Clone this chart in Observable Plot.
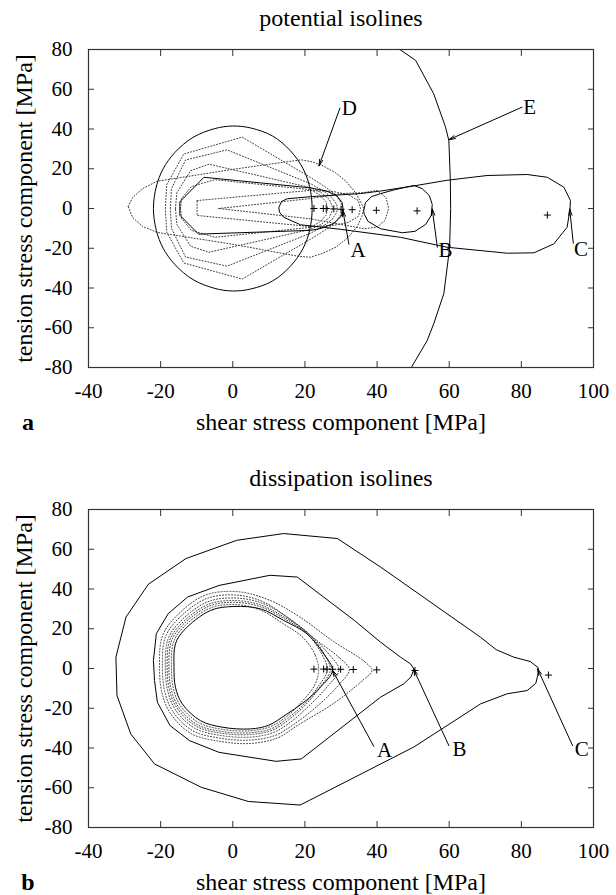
<!DOCTYPE html>
<html>
<head>
<meta charset="utf-8">
<script src="https://cdn.jsdelivr.net/npm/d3@7"></script>
<script src="https://cdn.jsdelivr.net/npm/@observablehq/plot@0.6"></script>
<style>
  html, body { margin: 0; padding: 0; background: #fff; }
  #chart { width: 616px; }
  #chart svg { display: block; }
</style>
</head>
<body>
<div id="chart"></div>
<script>
// ---------- shared axis data ----------
const xTicks = [-40, -20, 0, 20, 40, 60, 80, 100];
const yTicks = [-80, -60, -40, -20, 0, 20, 40, 60, 80];
const xTitle = "shear stress component [MPa]";
const yTitle = "tension stress component [MPa]";

// ---------- panel a: potential isolines ----------
const titleA = "potential isolines";
const ellipseA = [[-22,0],[-21.2,11],[-19.3,20],[-16,28.3],[-11,35.8],[-5,40.2],[0,41.5],[5,40.5],[11,36.5],[16,29],[19.5,20],[21.3,11],[22,0],[21.3,-11],[19.5,-20],[16,-29],[11,-36.5],[5,-40.5],[0,-41.5],[-5,-40.2],[-11,-35.8],[-16,-28.3],[-19.3,-20],[-21.2,-11]];
const wedgeA = [[-14.6,3.5],[-8,15.7],[21.5,10.4],[26,8.8],[28.8,6.5],[30.3,3],[30.6,-0.5],[30,-4],[28,-7.5],[24.5,-10],[21.5,-11],[-9.5,-12.9],[-14.6,-3.5]];
const teardropC = [[12.8,0.6],[13.5,3.5],[15.1,4.9],[22,6],[35.4,7.5],[41,8.8],[49.3,11.1],[59.4,14.2],[70.5,16.6],[81.6,17.1],[87.2,15.7],[91.8,10.7],[93.6,4],[93.5,0],[92.7,-9.4],[89,-17.8],[83.5,-22.3],[76.1,-22.5],[59.4,-19.5],[46.5,-14.5],[30,-10.5],[18.8,-8.2],[14.1,-4.4],[13,-2]];
const loopB = [[36.3,-1],[36.8,3],[38.5,6],[41,7.5],[45,9.5],[50.2,11.6],[52.5,10],[54.5,6.5],[55.3,2],[55,-3.5],[53.5,-8],[50.5,-11.5],[47,-12.2],[41,-10.2],[37.5,-6.5],[36.5,-3]];
const curveE = [[46.3,80],[50.7,74.5],[55.7,57.7],[59,40.9],[59.9,34.2],[60.3,15],[60.4,0],[60.1,-20],[58.5,-42.9],[55.7,-58],[53.9,-66.4],[49.5,-80]];
const dotD = [[-29,1],[-27.8,5.5],[-25,10],[-21,13.7],[0,19.7],[19,24.5],[22,23.5],[25,21.5],[28.5,18],[31.5,13.5],[34,8],[35.7,2.5],[36.3,0],[35.8,-4],[34.5,-9],[32,-14.5],[28.5,-19.5],[25,-22.5],[21.5,-24.5],[18,-24],[0,-18],[-21,-12],[-25,-9],[-27.8,-4.5]];
const dotQ1 = [[-18.7,0],[-18.3,12],[-13.6,27.4],[2.6,35.9],[21.5,15.7],[25.5,11],[28.5,7],[30,3],[30.3,0],[30,-3],[28.5,-7],[25.5,-11],[21.5,-15.5],[2.6,-35.5],[-13.6,-27.4],[-18.3,-12]];
const dotQ2 = [[-17.3,0],[-17,10],[-13.1,24.4],[-1.6,29.5],[21.5,12.5],[25,9],[27.5,5.5],[28.8,2],[29,0],[28.8,-2],[27.5,-5.5],[25,-9],[21.5,-12.5],[-1.6,-29],[-13.1,-24.4],[-17,-10]];
const dotQ3 = [[-15.9,0],[-15.5,8],[-11.7,19],[-6.6,22.3],[21.5,10.5],[24.5,8],[26.8,4.5],[27.8,0],[26.8,-4.5],[24.5,-8],[21.5,-10.5],[-6.6,-22],[-11.7,-19],[-15.5,-8]];
const dotQ4 = [[-14.5,0],[-14.2,5],[-11.5,11],[-5,14.5],[21.5,9.5],[24,7],[25.8,3.5],[26.3,0],[25.8,-3.5],[24,-7],[21.5,-9.5],[-5,-14.5],[-11.5,-11],[-14.2,-5]];
const dotQ5 = [[-9.9,4],[21.5,9.1],[28,8.5],[32,7],[34.8,4],[35.4,0],[34.8,-4],[32,-7],[28,-8.5],[21.5,-9.1],[-9.9,-3.5]];
const dotQ6 = [[-3.9,0],[21.5,5],[30,7.5],[36.3,8],[40,9.1],[42.5,5.5],[43.2,0],[42.2,-6],[40,-9.4],[36.3,-10.2],[30,-8],[21.5,-5.2]];
const plusAx = [22.5, 25.1, 25.9, 28.0, 30.0, 33.1, 39.8, 51.1, 87.2];
const plusAy = [0, 0, 0, -0.2, -0.4, -0.6, -0.9, -1.2, -3.3];
const arrowNamesA = ["D", "E", "A", "B", "C"];
const arrowFromXA = [29.7, 80.2, 32.2, 56.7, 94.4];
const arrowFromYA = [50.5, 51, -18, -19.5, -17.5];
const arrowToXA = [23.9, 59.9, 30.5, 55.3, 93.4];
const arrowToYA = [21.4, 34.6, -0.8, -0.2, -0.2];
const labelXA = [30.2, 80.5, 32.6, 57.0, 94.6];
const labelYA = [50.5, 51, -20.8, -20.8, -20.6];

// ---------- panel b: dissipation isolines ----------
const titleB = "dissipation isolines";
const outerC = [[84.6,0.5],[82.5,3.5],[77.9,5.7],[73,9.5],[68.7,15.7],[41,51],[29,65.4],[14.1,67.9],[1.1,64.5],[-13,55.3],[-23.4,42.4],[-29.6,25.9],[-32.4,5.7],[-32.1,-13.6],[-28.3,-32.9],[-21.7,-48],[-8.7,-59.8],[4.3,-66.9],[18.7,-68.7],[50.2,-39.5],[68.7,-17.8],[76.1,-12.7],[81.6,-11.1],[84,-7.5],[84.6,-3]];
const middleB = [[50.2,-0.2],[49.3,2.3],[46.5,5.7],[41,13.2],[33.7,24.2],[17.9,46],[10.3,46.9],[-3.8,41.8],[-12.5,36],[-17.9,27.6],[-21.2,17.5],[-22,4],[-21.7,-6],[-20.9,-17],[-17.4,-28.7],[-12,-36.3],[-3.8,-42.2],[12,-46.7],[19,-45.5],[41,-14.4],[47.4,-7.7],[49.3,-4.4]];
const innerA = [[27.6,-1],[25.2,7.4],[20.6,17.4],[14.1,24.2],[7.7,30],[0.3,31.2],[-6.2,29.2],[-13.6,19.1],[-15.9,12.4],[-16.3,0.6],[-15.9,-9.4],[-14,-17.8],[-9,-26.2],[-3,-29.5],[4.9,-30.4],[10,-28.5],[14.5,-23.5],[19.7,-17],[24.3,-9.4]];
const ring1 = [[23.8,-0.5],[22.8,7],[19.5,15.5],[14,22.5],[7.5,29.5],[0.3,32.2],[-6.5,30.2],[-14.2,19.8],[-16.5,12.8],[-17,0.6],[-16.5,-9.8],[-14.6,-18.5],[-9.5,-27.2],[-3,-30.6],[5,-31.3],[10.5,-29.2],[15,-24],[19.5,-16],[22.8,-8]];
const ring2 = [[26.2,-0.8],[24.6,7.5],[20.4,17.8],[14.3,25],[7.8,31],[0.3,33.3],[-6.8,31.2],[-14.7,20.4],[-17.1,13.2],[-17.7,0.6],[-17.1,-10.2],[-15.1,-19.2],[-9.9,-28.2],[-3,-31.7],[5,-32.3],[10.8,-30.2],[15.2,-25],[20,-17.5],[23.5,-9.5]];
const ring3 = [[27,-0.8],[25.2,7.8],[20.6,18.3],[14.4,25.7],[7.8,31.9],[0.3,34.2],[-7,32.1],[-15.1,21],[-17.6,13.6],[-18.2,0.6],[-17.6,-10.5],[-15.5,-19.8],[-10.2,-29],[-3,-32.6],[5,-33.2],[11,-31],[15.5,-25.8],[20.3,-18],[24,-9.8]];
const ring4 = [[29.4,-0.5],[26.5,7.5],[21,17.5],[14.6,26.5],[7.9,33],[0.3,35.5],[-7.3,33.3],[-15.6,21.7],[-18.1,14],[-18.7,0.6],[-18.1,-10.8],[-16,-20.5],[-10.6,-30],[-3,-33.8],[5,-34.5],[11.3,-32.2],[16,-27],[21,-19],[26,-9.5]];
const ring5 = [[32.3,-0.5],[29.5,5.5],[23,14.5],[16,24.5],[8.5,33.5],[0.5,37],[-7.8,34.8],[-16.3,22.7],[-18.9,14.6],[-19.5,0.6],[-18.9,-11.3],[-16.7,-21.4],[-11.1,-31.3],[-3,-35.2],[5,-36],[11.8,-33.6],[17,-28],[24,-18],[29.5,-8]];
const ring6 = [[38.6,-1],[36.5,3.5],[28,13.5],[18.5,26],[10,34.5],[1,38.7],[-8.2,36.5],[-17,23.7],[-19.7,15.2],[-20.3,0.6],[-19.7,-11.8],[-17.4,-22.3],[-11.6,-32.7],[-3,-36.8],[5,-37.7],[12.3,-35],[18.5,-28],[28,-17.5],[36,-6]];
const plusBx = [22.5, 25.2, 26.1, 27.7, 29.9, 33.4, 39.9, 50.5, 87.5];
const plusBy = [-0.3, -0.3, -0.3, -0.4, -0.4, -0.5, -0.7, -1.0, -3.3];
const arrowNamesB = ["A", "B", "C"];
const arrowFromXB = [39.1, 59.9, 94.2];
const arrowFromYB = [-39.2, -38.8, -38.8];
const arrowToXB = [27.6, 50.1, 84.5];
const arrowToYB = [-0.8, -0.3, -0.2];
const labelXB = [40.0, 60.9, 94.8];
const labelYB = [-41.2, -40.6, -40.6];

// ---------- drawing ----------
const FONT = "'Liberation Serif', 'Times New Roman', serif";
const DOT = {stroke: "#3a3a3a", strokeWidth: 1, strokeDasharray: "1,2"};
const SOLID = {stroke: "#000", strokeWidth: 1};
const xy = {x: d => d[0], y: d => d[1]};
const fmt = d => String(d);

function panel(cfg) {
  const arrows = cfg.names.map((n, i) => ({
    name: n, x1: cfg.fx[i], y1: cfg.fy[i], x2: cfg.tx[i], y2: cfg.ty[i], lx: cfg.lx[i], ly: cfg.ly[i]
  }));
  const pluses = cfg.px.map((x, i) => ({x, y: cfg.py[i]}));
  const marks = [];
  for (const d of cfg.dotted) marks.push(Plot.line(d.pts, {...xy, ...DOT, curve: d.curve}));
  for (const s of cfg.solid) marks.push(Plot.line(s.pts, {...xy, ...SOLID, curve: s.curve}));
  const T = {fontFamily: FONT, fill: "#000"};
  marks.push(
    Plot.dot(pluses, {x: "x", y: "y", symbol: "plus", r: 2.4, stroke: "#000", strokeWidth: 1}),
    Plot.arrow(arrows, {x1: "x1", y1: "y1", x2: "x2", y2: "y2", stroke: "#000", strokeWidth: 1, headLength: 10, headAngle: 28}),
    Plot.text(arrows, {x: "lx", y: "ly", text: "name", textAnchor: "start", lineAnchor: "middle", fontSize: 21, ...T}),
    Plot.frame({stroke: "#333", strokeWidth: 1.2}),
    Plot.axisX({anchor: "bottom", ticks: xTicks, tickFormat: fmt, tickSize: -6, tickPadding: 22, label: null, fontSize: 21, fontFamily: FONT, stroke: "#333", fill: "#000"}),
    Plot.axisX({anchor: "top", ticks: xTicks, tickSize: -6, tickFormat: () => "", label: null, stroke: "#333"}),
    Plot.axisY({anchor: "left", ticks: yTicks, tickFormat: fmt, tickSize: -6, tickPadding: 22, label: null, fontSize: 21, fontFamily: FONT, stroke: "#333", fill: "#000"}),
    Plot.axisY({anchor: "right", ticks: yTicks, tickSize: -6, tickFormat: () => "", label: null, stroke: "#333"}),
    Plot.text([cfg.title], {text: d => d, frameAnchor: "top", dy: -31, textAnchor: "middle", lineAnchor: "middle", fontSize: 24, ...T}),
    Plot.text([xTitle], {text: d => d, frameAnchor: "bottom", dy: 55, textAnchor: "middle", lineAnchor: "middle", fontSize: 24, ...T}),
    Plot.text([yTitle], {text: d => d, frameAnchor: "left", dx: -64, rotate: -90, textAnchor: "middle", lineAnchor: "middle", fontSize: 24, ...T}),
    Plot.text([cfg.letter], {text: d => d, frameAnchor: "bottom-left", dx: -60.5, dy: 55, textAnchor: "middle", lineAnchor: "middle", fontSize: 24, fontWeight: "bold", ...T})
  );
  return Plot.plot({
    width: 616,
    height: cfg.height,
    marginLeft: 88,
    marginRight: 23,
    marginTop: 49,
    marginBottom: cfg.marginBottom,
    style: {fontFamily: FONT, fontSize: "21px", color: "#000", background: "#fff", overflow: "visible"},
    x: {domain: [-40, 100]},
    y: {domain: [-80, 80]},
    marks
  });
}

const chart = document.getElementById("chart");
chart.append(panel({
  title: titleA, letter: "a", height: 460, marginBottom: 93,
  dotted: [
    {pts: dotD, curve: "linear-closed"},
    {pts: dotQ1, curve: "linear-closed"},
    {pts: dotQ2, curve: "linear-closed"},
    {pts: dotQ3, curve: "linear-closed"},
    {pts: dotQ4, curve: "linear-closed"},
    {pts: dotQ5, curve: "linear-closed"},
    {pts: dotQ6, curve: "linear-closed"}
  ],
  solid: [
    {pts: ellipseA, curve: "catmull-rom-closed"},
    {pts: wedgeA, curve: "linear-closed"},
    {pts: teardropC, curve: "linear-closed"},
    {pts: loopB, curve: "linear-closed"},
    {pts: curveE, curve: "linear"}
  ],
  px: plusAx, py: plusAy,
  names: arrowNamesA, fx: arrowFromXA, fy: arrowFromYA, tx: arrowToXA, ty: arrowToYA, lx: labelXA, ly: labelYA
}));
chart.append(panel({
  title: titleB, letter: "b", height: 435, marginBottom: 68,
  dotted: [
    {pts: ring1, curve: "catmull-rom-closed"},
    {pts: ring2, curve: "catmull-rom-closed"},
    {pts: ring3, curve: "catmull-rom-closed"},
    {pts: ring4, curve: "catmull-rom-closed"},
    {pts: ring5, curve: "catmull-rom-closed"},
    {pts: ring6, curve: "catmull-rom-closed"}
  ],
  solid: [
    {pts: innerA, curve: "catmull-rom-closed"},
    {pts: middleB, curve: "linear-closed"},
    {pts: outerC, curve: "linear-closed"}
  ],
  px: plusBx, py: plusBy,
  names: arrowNamesB, fx: arrowFromXB, fy: arrowFromYB, tx: arrowToXB, ty: arrowToYB, lx: labelXB, ly: labelYB
}));
</script>
</body>
</html>
